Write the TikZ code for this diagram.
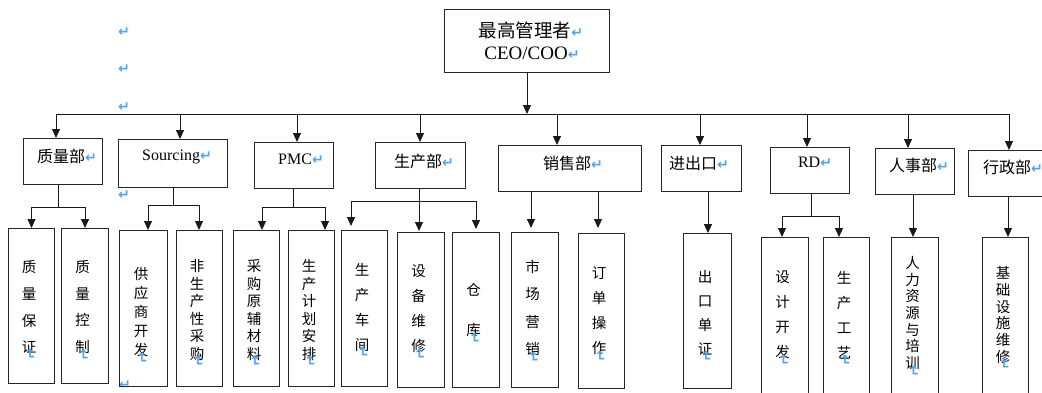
\documentclass[tikz,border=0pt]{standalone}
\usepackage{fontspec}
\setmainfont{Liberation Serif}
\newfontfamily\cjk{Noto Sans CJK SC}
\newfontfamily\symf{DejaVu Sans}
\usetikzlibrary{arrows.meta}
\definecolor{markblue}{HTML}{4FA3F0}
\newcommand{\pmk}{{\symf\bfseries\fontsize{14}{14}\selectfont\color{markblue}↵}}
\newcommand{\dept}[8]{%
  \node[box,minimum width={#4-#2},minimum height={#5-#3}] (#1) at (#2,#3) {};
  \node[dtxt] (#1t) at (#6,#7) {#8\pmk};
}
\newcommand{\child}[8]{%
  \node[box,minimum width={#4-#2},minimum height={#5-#3}] (#1) at (#2,#3) {};
  \node[vtxt=#6] (#1t) at ({(#2+#4)/2-2},#7) {#8};
  \node[pmkn,rotate=-90] (#1m) at ([xshift=1pt,yshift=-1pt]#1t.south) {↵};
}
\begin{document}
\begin{tikzpicture}[x=1pt,y=-1pt,
  box/.style={draw=black!85,line width=1pt,inner sep=0pt,anchor=north west},
  ln/.style={draw=black!90,line width=0.9pt},
  arr/.style={ln,-{Triangle[width=8pt,length=9pt]}},
  vtxt/.style={font=\cjk\fontsize{14.5}{#1}\selectfont,align=center,inner sep=0pt},
  dtxt/.style={font=\cjk\fontsize{16}{18}\selectfont,inner sep=0pt},
  pmkn/.style={font=\symf\bfseries\fontsize{14}{14}\selectfont,text=markblue,inner sep=0pt}]
\useasboundingbox (0,0) rectangle (1042,392);

% top box
\node[box,minimum width={609-444},minimum height={72-9}] (ceo) at (444,9) {};
\node[font=\cjk\fontsize{18.5}{20}\selectfont,inner sep=0pt] (ceo1) at (531,30) {最高管理者\pmk};
\node[font=\fontsize{19}{20}\selectfont,inner sep=0pt] (ceo2) at (532,53) {CEO/COO\pmk};

% stray paragraph marks
\node[pmkn] (s1) at (124,32) {↵};
\node[pmkn] (s2) at (124,69) {↵};
\node[pmkn] (s3) at (124,107) {↵};
\node[pmkn] (s4) at (124,195) {↵};
\node[pmkn] (s5) at (125,385) {↵};

% departments
\dept{d1}{23}{138}{102}{184}{67}{156}{质量部}
\dept{d2}{118}{139}{227}{187}{177}{157}{\rmfamily Sourcing}
\dept{d3}{254}{142}{333}{188}{301}{159}{\rmfamily PMC}
\dept{d4}{375}{142}{465}{188}{424}{161}{生产部}
\dept{d5}{498}{145}{641}{191}{573}{163}{销售部}
\dept{d6}{661}{145}{741}{191}{699}{163}{进出口}
\dept{d7}{770}{147}{849}{193}{815}{162}{\rmfamily RD}
\dept{d8}{875}{148}{954}{194}{919}{165}{人事部}
\dept{d9}{968}{150}{1046}{196}{1013}{167}{行政部}

% children
\child{c1}{8}{228}{54}{383}{26.7}{307}{质\\量\\保\\证}
\child{c2}{61}{228}{108}{383}{26.7}{307}{质\\量\\控\\制}
\child{c3}{119}{230}{167}{386}{19}{312}{供\\应\\商\\开\\发}
\child{c4}{176}{230}{222}{386}{17.5}{310}{非\\生\\产\\性\\采\\购}
\child{c5}{233}{230}{279}{386}{17.5}{310}{采\\购\\原\\辅\\材\\料}
\child{c6}{288}{230}{334}{386}{17.5}{310}{生\\产\\计\\划\\安\\排}
\child{c7}{341}{230}{387}{386}{25}{307}{生\\产\\车\\间}
\child{c8}{397}{232}{444}{387}{25}{309}{设\\备\\维\\修}
\child{c9}{452}{232}{499}{387}{40}{310}{仓\\库}
\child{c10}{511}{232}{558}{387}{27.5}{308}{市\\场\\营\\销}
\child{c11}{578}{233}{624}{388}{25}{311}{订\\单\\操\\作}
\child{c12}{683}{233}{731}{388}{24}{313}{出\\口\\单\\证}
\child{c13}{761}{237}{808}{394}{25}{315}{设\\计\\开\\发}
\child{c14}{823}{237}{869}{394}{25}{315}{生\\产\\工\\艺}
\child{c15}{891}{237}{938}{394}{16.7}{313}{人\\力\\资\\源\\与\\培\\训}
\child{c16}{982}{237}{1028}{394}{16.7}{315}{基\\础\\设\\施\\维\\修}

% bus
\coordinate (busL) at (56,114);
\coordinate (busR) at (1009,114);
\draw[ln] (busL) -- (busR);
\draw[arr] (ceo.south) -- (ceo.south |- busL);
\coordinate (t1) at (56,114);
\coordinate (t2) at (180,114);
\coordinate (t3) at (297,114);
\coordinate (t4) at (420,114);
\coordinate (t5) at (557,114);
\coordinate (t6) at (700,114);
\coordinate (t7) at (807,114);
\coordinate (t8) at (908,114);
\coordinate (t9) at (1009,114);
\foreach \i in {1,...,9} \draw[arr] (t\i) -- (t\i |- d\i.north);

% 质量部
\coordinate (q0) at (58,207);
\draw[ln] (q0 |- d1.south) -- (q0);
\draw[arr] (q0) -| (c1.north);
\draw[arr] (q0) -| (c2.north);
% Sourcing
\coordinate (s0) at (173,205);
\coordinate (sa) at (148,230);
\coordinate (sb) at (199,230);
\draw[ln] (s0 |- d2.south) -- (s0);
\draw[arr] (s0) -| (sa);
\draw[arr] (s0) -| (sb);
% PMC
\coordinate (p0) at (293,207);
\coordinate (pa) at (262,230);
\coordinate (pb) at (325,230);
\draw[ln] (p0 |- d3.south) -- (p0);
\draw[arr] (p0) -| (pa);
\draw[arr] (p0) -| (pb);
% 生产部
\coordinate (m0) at (419,201);
\coordinate (ma) at (351,226);
\coordinate (mb) at (419,231);
\coordinate (mc) at (476,229);
\draw[ln] (m0 |- d4.south) -- (m0);
\draw[arr] (m0) -| (ma);
\draw[arr] (m0) -- (mb);
\draw[arr] (m0) -| (mc);
% 销售部
\coordinate (xa) at (531,228);
\coordinate (xb) at (598,228);
\draw[arr] (xa |- d5.south) -- (xa);
\draw[arr] (xb |- d5.south) -- (xb);
% 进出口
\coordinate (ea) at (708,233);
\draw[arr] (ea |- d6.south) -- (ea);
% RD
\coordinate (r0) at (811,216);
\coordinate (ra) at (782,237);
\coordinate (rb) at (839,237);
\draw[ln] (r0 |- d7.south) -- (r0);
\draw[arr] (r0) -| (ra);
\draw[arr] (r0) -| (rb);
% 人事部
\coordinate (ha) at (913,237);
\draw[arr] (ha |- d8.south) -- (ha);
% 行政部
\coordinate (ga) at (1008,237);
\draw[arr] (ga |- d9.south) -- (ga);
\end{tikzpicture}
\end{document}
